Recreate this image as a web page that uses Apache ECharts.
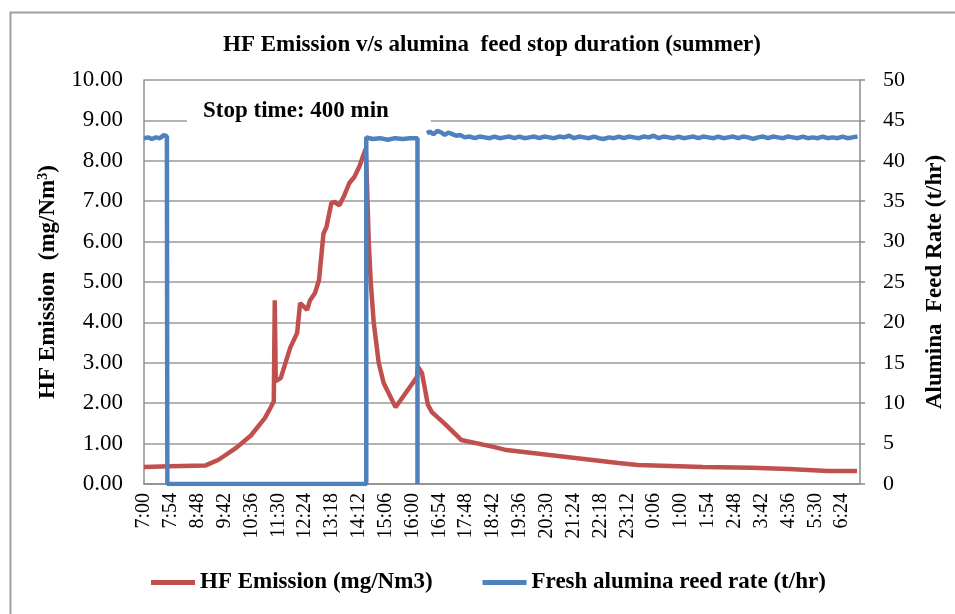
<!DOCTYPE html>
<html>
<head>
<meta charset="utf-8">
<script src="https://cdn.jsdelivr.net/npm/echarts@6/dist/echarts.min.js"></script>
<style>html,body{margin:0;padding:0;background:#fff}#c{width:955px;height:614px}</style>
</head>
<body>
<div id="c"></div>
<script>
// x tick labels (every 54 minutes from 7:00)
var tickLabels = ['7:00','7:54','8:48','9:42','10:36','11:30','12:24','13:18','14:12','15:06','16:00','16:54','17:48','18:42','19:36','20:30','21:24','22:18','23:12','0:06','1:00','1:54','2:48','3:42','4:36','5:30','6:24'];

// HF emission (mg/Nm3): minutes since 7:00 and values
var hfMinutes = [0,51,124,150,186,215,243,255,261,263,265,275,294,308,314,328,334,344,352,361,367,377,383,393,403,413,423,433,440,446,448,452,456,462,472,482,506,549,551,559,571,579,604,638,703,729,954,993,1124,1222,1296,1375,1434];
var hfValues  = [0.42,0.44,0.46,0.6,0.9,1.2,1.63,1.9,2.05,4.55,2.55,2.62,3.37,3.74,4.48,4.31,4.55,4.73,5.05,6.2,6.36,6.96,6.98,6.9,7.15,7.45,7.6,7.85,8.1,8.3,7.6,6.0,5.0,4.0,3.0,2.5,1.9,2.65,2.9,2.75,1.96,1.78,1.5,1.09,0.92,0.84,0.52,0.47,0.42,0.4,0.37,0.32,0.32];

// Fresh alumina feed rate (t/hr): minutes since 7:00 and values (null = gap)
var feedMinutes = [0,8,16,24,32,40,46,47,447,447,460,475,490,505,520,535,550,550,551,569,575,582,590,598,605,612,620,628,636,645,655,665,675,685,695,705,715,725,735,745,755,765,775,785,795,805,815,825,835,845,855,865,875,885,895,905,915,925,935,945,955,965,975,985,995,1005,1015,1025,1035,1045,1055,1065,1075,1085,1095,1105,1115,1125,1135,1145,1155,1165,1175,1185,1195,1205,1215,1225,1235,1245,1255,1265,1275,1285,1295,1305,1315,1325,1335,1345,1355,1365,1375,1385,1395,1405,1415,1425,1435];
var feedValues  = [42.8,42.9,42.7,42.9,42.8,43.2,43.0,0,0,42.9,42.7,42.8,42.6,42.8,42.7,42.8,42.8,0,null,43.4,43.6,43.3,43.7,43.5,43.2,43.5,43.3,43.1,43.2,42.9,43.0,42.8,43.0,42.9,42.8,43.0,42.8,42.9,43.0,42.8,43.0,42.8,42.9,43.0,42.8,43.0,42.9,42.8,43.0,42.9,43.1,42.8,43.0,42.9,42.8,43.0,42.8,42.7,42.9,42.8,43.0,42.8,43.0,42.9,42.8,43.0,42.9,43.1,42.8,43.0,42.9,42.8,43.0,42.8,42.9,43.0,42.8,43.0,42.9,42.8,43.0,42.8,42.9,43.0,42.8,43.0,42.9,42.7,42.9,43.0,42.8,43.0,42.9,42.8,43.0,42.9,42.8,43.0,42.8,42.9,42.8,43.0,42.8,42.9,42.8,43.0,42.8,42.9,43.0];

var leftTicks = { min: 0, max: 10, interval: 1 };
var rightTicks = { min: 0, max: 50, interval: 5 };

function pairs(xs, ys) {
  return xs.map(function (x, i) { return [x, ys[i] === null ? '-' : ys[i]]; });
}

var FONT = '"Liberation Serif", "Times New Roman", serif';
var chart = echarts.init(document.getElementById('c'));
chart.setOption({
  animation: false,
  backgroundColor: '#fff',
  textStyle: { fontFamily: FONT },
  title: {
    text: 'HF Emission v/s alumina  feed stop duration (summer)',
    left: 487, textAlign: 'center', top: 29,
    textStyle: { fontFamily: FONT, fontSize: 23, fontWeight: 'bold', color: '#000' }
  },
  grid: { left: 144, right: 82, top: 80, bottom: 130, containLabel: false },
  legend: {
    left: 146, top: 566,
    itemWidth: 44, itemHeight: 5, itemGap: 50,
    icon: 'rect',
    textStyle: { fontFamily: FONT, fontSize: 23, fontWeight: 'bold', color: '#000' },
    data: ['HF Emission (mg/Nm3)', 'Fresh alumina reed rate (t/hr)']
  },
  xAxis: {
    type: 'value', min: 0, max: 1440, interval: 54,
    axisLine: { show: true, lineStyle: { color: '#8c8c8c', width: 1.5 } },
    axisTick: { show: false },
    splitLine: { show: false },
    axisLabel: {
      rotate: 90, margin: 9, fontFamily: FONT, fontSize: 20, color: '#000',
      showMaxLabel: false,
      formatter: function (v) { var i = v / 54; return (Math.round(i) === i && tickLabels[i]) ? tickLabels[i] : ''; }
    }
  },
  yAxis: [{
    type: 'value', min: leftTicks.min, max: leftTicks.max, interval: leftTicks.interval,
    name: 'HF Emission  (mg/Nm{sup|3})', nameLocation: 'middle', nameGap: 82, nameRotate: 90,
    nameTextStyle: { fontFamily: FONT, fontSize: 23, fontWeight: 'bold', color: '#000',
      rich: { sup: { fontFamily: FONT, fontSize: 14, fontWeight: 'bold', color: '#000', verticalAlign: 'top', lineHeight: 12, padding: [0,0,10,0] } } },
    axisLine: { show: true, lineStyle: { color: '#8c8c8c', width: 1.5 } },
    axisTick: { show: false },
    splitLine: { show: true, lineStyle: { color: '#9a9a9a', width: 1.5 } },
    axisLabel: { fontFamily: FONT, fontSize: 23, color: '#000', margin: 21, formatter: function (v) { return v.toFixed(2); } }
  }, {
    type: 'value', min: rightTicks.min, max: rightTicks.max, interval: rightTicks.interval,
    name: 'Alumina  Feed Rate (t/hr)', nameLocation: 'middle', nameGap: 64, nameRotate: 90,
    nameTextStyle: { fontFamily: FONT, fontSize: 23, fontWeight: 'bold', color: '#000' },
    axisLine: { show: true, lineStyle: { color: '#8c8c8c', width: 1.5 } },
    axisTick: { show: true, length: 5, lineStyle: { color: '#8c8c8c', width: 1.5 } },
    splitLine: { show: false },
    axisLabel: { fontFamily: FONT, fontSize: 22, color: '#000', margin: 23 }
  }],
  graphic: [
    { type: 'rect', left: 8, top: 10, shape: { x: 0, y: 0, width: 960, height: 620 }, style: { fill: 'none', stroke: '#a0a0a0', lineWidth: 2 }, silent: true, z: -10 },
    { type: 'text', left: 187, top: 98, z: 50,
      style: { text: 'Stop time: 400 min', font: 'bold 23px ' + FONT, fill: '#000', backgroundColor: '#fff', padding: [2, 42, 2, 16] } }
  ],
  series: [{
    name: 'HF Emission (mg/Nm3)', type: 'line', yAxisIndex: 0, showSymbol: false, symbol: 'none',
    color: '#C0504D', lineStyle: { color: '#C0504D', width: 4.5 },
    data: pairs(hfMinutes, hfValues), z: 3
  }, {
    name: 'Fresh alumina reed rate (t/hr)', type: 'line', yAxisIndex: 1, showSymbol: false, symbol: 'none',
    color: '#4F81BD', lineStyle: { color: '#4F81BD', width: 4.5 }, connectNulls: false,
    data: pairs(feedMinutes, feedValues), z: 4
  }]
});
</script>
</body>
</html>
